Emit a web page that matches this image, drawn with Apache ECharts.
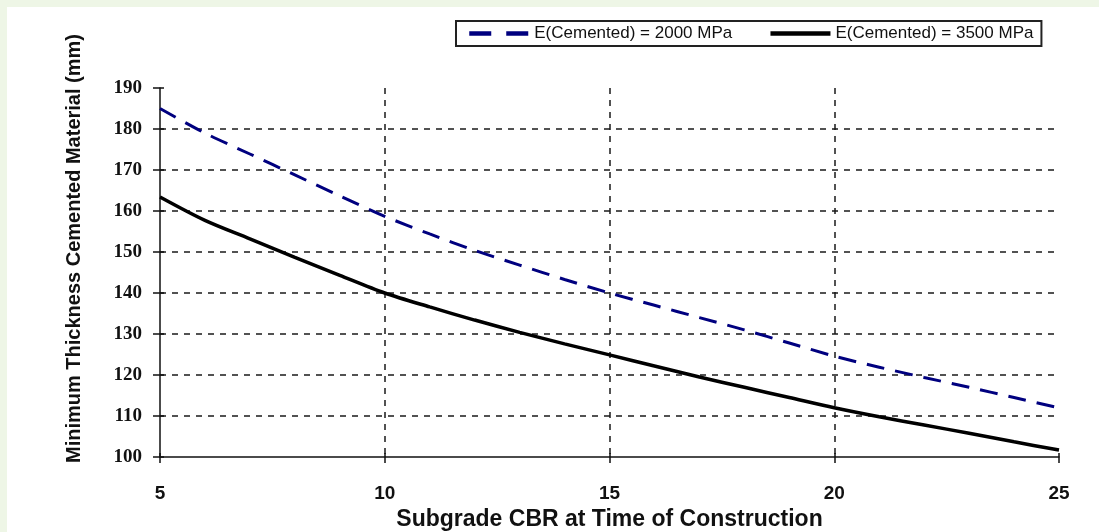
<!DOCTYPE html>
<html><head><meta charset="utf-8">
<script src="https://cdn.jsdelivr.net/npm/echarts@6/dist/echarts.min.js"></script>
<style>
html,body{margin:0;padding:0;background:#eef6e6;width:1099px;height:532px;overflow:hidden;}
#panel{position:absolute;left:7px;top:7px;width:1092px;height:525px;background:#fff;}
#chart{position:absolute;left:0;top:0;width:1099px;height:532px;}
</style></head><body>
<div id="panel"></div><div id="chart"></div>
<script>
// Data (thickness in mm at each CBR)
const seriesNames = ['E(Cemented) = 2000 MPa', 'E(Cemented) = 3500 MPa'];
const cbr       = [5, 6, 7, 8, 9, 10, 11, 12, 13, 14, 15, 16, 17, 18, 19, 20, 21, 22, 23, 24, 25];
const thick2000 = [185, 179, 173.9, 168.8, 163.7, 158.7, 154.4, 150.4, 146.8, 143.3, 140, 137, 134, 131, 127.8, 124.6, 121.9, 119.4, 117, 114.5, 112];
const thick3500 = [163.4, 157.7, 153.2, 148.7, 144.3, 140, 136.6, 133.4, 130.4, 127.6, 124.9, 122.2, 119.5, 117, 114.5, 112, 109.8, 107.8, 105.8, 103.7, 101.7];
const xAxisTitle = 'Subgrade CBR at Time of Construction';
const yAxisTitle = 'Minimum Thickness Cemented Material (mm)';
const xMin = 5, xMax = 25, xStep = 5;
const yMin = 100, yMax = 190, yStep = 10;

const pairs = (xs, ys) => xs.map((x, i) => [x, ys[i]]);
const chart = echarts.init(document.getElementById('chart'), null, {renderer: 'canvas'});
const gridDash = {color: '#1a1a1a', width: 1.5, type: [6, 6]};
chart.setOption({
  backgroundColor: 'transparent',
  animation: false,
  grid: {left: 160, right: 40, top: 88, bottom: 75, containLabel: false, outerBoundsMode: 'none'},
  legend: {
    left: 456, top: 21,
    data: [
      {name: seriesNames[0], lineStyle: {width: 4.5, type: [22, 15]}},
      {name: seriesNames[1], lineStyle: {width: 4.5, type: 'solid'}}
    ],
    backgroundColor: '#fff',
    borderColor: '#222', borderWidth: 2,
    padding: [4, 8, 4, 11],
    itemWidth: 60, itemHeight: 12, itemGap: 36,
    itemStyle: {opacity: 0, color: 'rgba(0,0,0,0)', borderWidth: 0},
    textStyle: {fontFamily: 'Liberation Sans, Arial, sans-serif', fontSize: 17, color: '#111'}
  },
  xAxis: [{
    type: 'value', min: xMin, max: xMax, interval: xStep,
    name: xAxisTitle, nameLocation: 'middle', nameGap: 50,
    nameTextStyle: {fontFamily: 'Liberation Sans, Arial, sans-serif', fontWeight: 'bold', fontSize: 23, color: '#111'},
    axisLine: {show: true, lineStyle: {color: '#111', width: 1.5}},
    axisTick: {show: true, length: 6, lineStyle: {color: '#111', width: 1.5}},
    axisLabel: {margin: 27, fontFamily: 'Liberation Sans Narrow, Liberation Sans, Arial, sans-serif', fontWeight: 'bold', fontSize: 19, color: '#111'},
    splitLine: {show: true, showMinLine: false, showMaxLine: false, lineStyle: gridDash}
  }, {
    type: 'value', min: xMin, max: xMax, interval: xStep, position: 'bottom',
    axisLine: {show: false}, axisLabel: {show: false}, splitLine: {show: false},
    axisTick: {show: true, inside: true, length: 4, lineStyle: {color: '#111', width: 1.5}}
  }],
  yAxis: [{
    type: 'value', min: yMin, max: yMax, interval: yStep,
    name: yAxisTitle, nameLocation: 'middle', nameGap: 76, nameRotate: 90,
    nameTextStyle: {fontFamily: 'Liberation Sans, Arial, sans-serif', fontWeight: 'bold', fontSize: 20, color: '#111', padding: [0, 0, 0, 48]},
    axisLine: {show: true, lineStyle: {color: '#111', width: 1.5}},
    axisTick: {show: true, length: 7, lineStyle: {color: '#111', width: 1.5}},
    axisLabel: {margin: 18, fontFamily: 'Liberation Serif, Times New Roman, serif', fontWeight: 'bold', fontSize: 19, color: '#111'},
    splitLine: {show: true, showMinLine: false, showMaxLine: false, lineStyle: gridDash}
  }, {
    type: 'value', min: yMin, max: yMax, interval: yStep, position: 'left',
    axisLine: {show: false}, axisLabel: {show: false}, splitLine: {show: false},
    axisTick: {show: true, inside: true, length: 4, lineStyle: {color: '#111', width: 1.5}}
  }],
  series: [{
    name: seriesNames[0], type: 'line', xAxisIndex: 0, yAxisIndex: 0,
    data: pairs(cbr, thick2000),
    showSymbol: false, symbol: 'none', smooth: 0.3,
    lineStyle: {color: '#00007f', width: 3, type: [18, 11]},
    itemStyle: {color: '#00007f'}
  }, {
    name: seriesNames[1], type: 'line', xAxisIndex: 0, yAxisIndex: 0,
    data: pairs(cbr, thick3500),
    showSymbol: false, symbol: 'none', smooth: 0.3,
    lineStyle: {color: '#000', width: 3.5, type: 'solid'},
    itemStyle: {color: '#000'}
  }]
});
</script></body></html>
